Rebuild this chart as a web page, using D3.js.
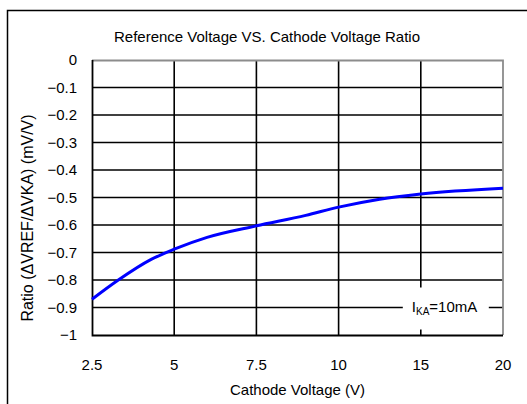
<!DOCTYPE html>
<html>
<head>
<meta charset="utf-8">
<script src="https://cdn.jsdelivr.net/npm/d3@7"></script>
<style>
    body { margin: 0; background: #fff; }
    text { font-family: "Liberation Sans", Arial, sans-serif; fill: #000; }
</style>
</head>
<body>
<div id="chart"></div>
<script>
// chart values
const xTicks = [2.5, 5, 7.5, 10, 15, 20];
const yTicks = [0, -0.1, -0.2, -0.3, -0.4, -0.5, -0.6, -0.7, -0.8, -0.9, -1];
const cathodeVoltage = [2.5, 3.3, 4.3, 5, 6, 7.5, 9, 10, 12.5, 15, 20];
const ratio = [-0.87, -0.80, -0.725, -0.688, -0.645, -0.603, -0.565, -0.535, -0.506, -0.487, -0.466];

const W = 527, H = 404;
const margin = { top: 60, right: 24, bottom: 69, left: 92 };
const width = W - margin.left - margin.right,
    height = H - margin.top - margin.bottom;
const fs = "15px";

const svg = d3.select("#chart").append("svg")
    .attr("width", W)
    .attr("height", H);

// outer frame (only left and top visible in the shot)
svg.append("path")
    .attr("d", "M7.5," + H + "V10.5H" + W)
    .attr("fill", "none")
    .attr("stroke", "#000")
    .attr("stroke-width", 1.5);

const g = svg.append("g")
    .attr("transform", "translate(" + margin.left + "," + margin.top + ")");

// category-like axis: ticks evenly spaced
const x = d3.scaleLinear()
    .domain(xTicks)
    .range(xTicks.map((d, i) => i * width / (xTicks.length - 1)));

const y = d3.scaleLinear()
    .domain([-1, 0])
    .range([height, 0]);

// grid
g.append("g").selectAll("line")
    .data(yTicks.filter(d => d !== 0 && d !== -1))
    .enter().append("line")
    .attr("x1", 0).attr("x2", width)
    .attr("y1", d => y(d))
    .attr("y2", d => y(d))
    .attr("stroke", "#000")
    .attr("stroke-width", 1.6);

g.append("g").selectAll("line")
    .data(xTicks.slice(1, -1))
    .enter().append("line")
    .attr("x1", d => x(d))
    .attr("x2", d => x(d))
    .attr("y1", 0).attr("y2", height)
    .attr("stroke", "#000")
    .attr("stroke-width", 1.6);

// plot border top/right gray
g.append("path")
    .attr("d", "M0,0.5H" + width + "V" + height)
    .attr("fill", "none")
    .attr("stroke", "#8c8c8c")
    .attr("stroke-width", 1.8);

// axes lines left/bottom black
g.append("path")
    .attr("d", "M0.5,0V" + (height + 0.5) + "H" + width)
    .attr("fill", "none")
    .attr("stroke", "#000")
    .attr("stroke-width", 1.8);

// annotation box covers grid
const ann = g.append("g")
    .attr("transform", "translate(" + (x(15) - 18) + "," + (y(-0.9) - 20) + ")");
ann.append("rect")
    .attr("width", 86)
    .attr("height", 42)
    .attr("fill", "#fff");
const annText = ann.append("text")
    .attr("x", 9)
    .attr("y", 24)
    .style("font-size", fs);
annText.append("tspan").text("I");
annText.append("tspan").attr("dy", 3).style("font-size", "10px").text("KA");
annText.append("tspan").attr("dy", -3).text("=10mA");

// y tick labels
g.append("g").selectAll("text")
    .data(yTicks)
    .enter().append("text")
    .attr("x", -15)
    .attr("y", d => y(d))
    .attr("dy", "0.35em")
    .attr("text-anchor", "end")
    .style("font-size", fs)
    .text(d => d3.format("")(d));

// x tick labels
g.append("g").selectAll("text")
    .data(xTicks)
    .enter().append("text")
    .attr("x", d => x(d))
    .attr("y", height + 35)
    .attr("text-anchor", "middle")
    .style("font-size", fs)
    .text(d => d);

// curve
const line = d3.line()
    .x(d => x(d[0]))
    .y(d => y(d[1]))
    .curve(d3.curveMonotoneX);

g.append("path")
    .datum(d3.zip(cathodeVoltage, ratio))
    .attr("d", line)
    .attr("fill", "none")
    .attr("stroke", "#0000ff")
    .attr("stroke-width", 3);

// titles
svg.append("text")
    .attr("x", 267)
    .attr("y", 42)
    .attr("text-anchor", "middle")
    .style("font-size", fs)
    .text("Reference Voltage VS. Cathode Voltage Ratio");

svg.append("text")
    .attr("x", margin.left + width / 2)
    .attr("y", 395)
    .attr("text-anchor", "middle")
    .style("font-size", fs)
    .text("Cathode Voltage (V)");

svg.append("text")
    .attr("transform", "translate(33,218) rotate(-90)")
    .attr("text-anchor", "middle")
    .style("font-size", "16px")
    .text("Ratio (ΔVREF/ΔVKA) (mV/V)");
</script>
</body>
</html>
